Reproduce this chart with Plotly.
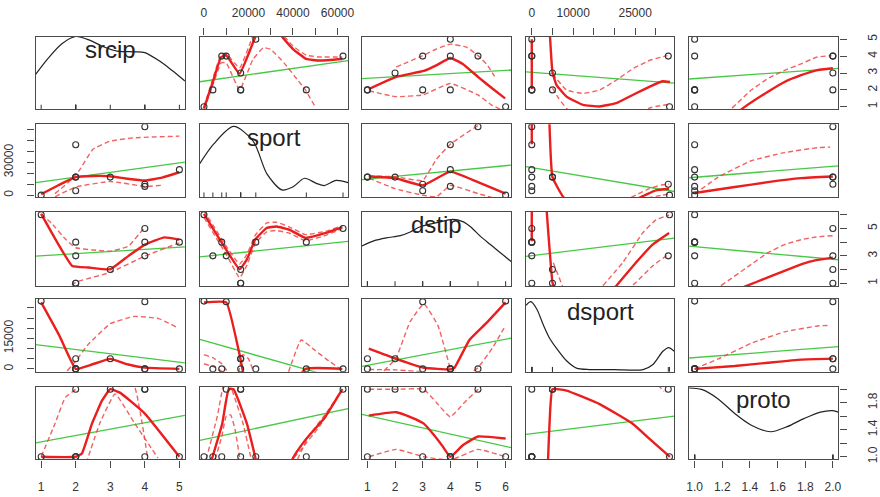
import numpy as np
import plotly.graph_objects as go

W, H = 880, 497

# ---------------- data ----------------
var_names = ["srcip", "sport", "dstip", "dsport", "proto"]
srcip = [1, 2, 2, 3, 2, 4, 4, 2, 5, 4]
sport = [0, 16500, 16500, 16500, 4000, 10000, 8000, 46000, 23300, 62500]
dstip = [6, 1, 1, 2, 3, 3, 4, 4, 4, 5]
dsport = [33300, 0, 5000, 5000, 0, 33000, 0, 0, 0, 0]
proto = [1, 1, 2, 2, 1, 2, 1, 1, 1, 2]

# axis limits (data range + 4%)
lim_srcip = [0.84, 5.16]
lim_sport = [-1900, 64750]
lim_dstip = [0.8, 6.2]
lim_dsport = [-1400, 34450]
lim_proto = [0.96, 2.04]

# tick values / labels
tick_srcip = [1, 2, 3, 4, 5]
lab_srcip_bottom = ["1", "2", "3", "4", "5"]
lab_srcip_right = ["1", "2", "3", "4", "5"]
tick_sport = [0, 10000, 20000, 30000, 40000, 50000, 60000]
lab_sport_top = ["0", "", "20000", "", "40000", "", "60000"]
lab_sport_left = ["0", "", "", "30000", "", "", ""]
tick_dstip = [1, 2, 3, 4, 5, 6]
lab_dstip_bottom = ["1", "2", "3", "4", "5", "6"]
lab_dstip_right = ["1", "", "3", "", "5", ""]
tick_dsport = [0, 5000, 10000, 15000, 20000, 25000, 30000]
lab_dsport_top = ["0", "", "10000", "", "", "25000", ""]
lab_dsport_left = ["0", "", "", "15000", "", "", ""]
tick_proto = [1.0, 1.2, 1.4, 1.6, 1.8, 2.0]
lab_proto_bottom = ["1.0", "1.2", "1.4", "1.6", "1.8", "2.0"]
lab_proto_right = ["1.0", "", "1.4", "", "1.8", ""]

# density curves on the diagonal (x value, relative height 0..1)
dens_srcip_x = [0.84, 1.2, 1.6, 2.0, 2.4, 2.8, 3.2, 3.7, 4.0, 4.47, 4.8, 5.16]
dens_srcip_y = [0.48, 0.7, 0.9, 1.0, 0.95, 0.86, 0.8, 0.79, 0.78, 0.65, 0.53, 0.39]
dens_sport_x = [-1900, 4400, 13300, 22100, 28300, 35000, 39900, 45200, 50500, 54100, 59400, 64750]
dens_sport_y = [0.46, 0.73, 0.97, 0.77, 0.32, 0.1, 0.14, 0.26, 0.19, 0.16, 0.23, 0.2]
dens_dstip_x = [0.8, 1.23, 1.69, 2.19, 2.55, 2.91, 3.55, 4.09, 4.45, 4.73, 5.09, 5.45, 5.81, 6.2]
dens_dstip_y = [0.54, 0.61, 0.65, 0.68, 0.73, 0.8, 0.86, 0.9, 0.87, 0.8, 0.67, 0.56, 0.45, 0.33]
dens_dsport_x = [-1400, -240, 1200, 2800, 4300, 6000, 8400, 10800, 13900, 20000, 26900, 29300, 31700, 33100, 34450]
dens_dsport_y = [0.91, 0.96, 0.86, 0.64, 0.46, 0.32, 0.15, 0.05, 0.03, 0.03, 0.03, 0.1, 0.28, 0.33, 0.28]
dens_proto_x = [0.96, 1.05, 1.17, 1.29, 1.41, 1.55, 1.67, 1.79, 1.91, 2.0, 2.04]
dens_proto_y = [0.98, 0.96, 0.83, 0.63, 0.47, 0.38, 0.45, 0.56, 0.65, 0.67, 0.65]

# smoother (solid) and spread (dashed) curves per panel: [x values, y values]
sm_1_2 = [[0, 3800, 7700, 10000, 16000, 23000, 29000, 34800, 40000, 46000, 52000, 62200],
          [0.9, 2.4, 3.93, 4.05, 2.96, 5.1, 6.5, 5.2, 4.42, 3.83, 3.74, 3.83]]
up_1_2 = [[0, 3800, 7700, 10000, 16000, 22000, 28000, 34000, 40000, 46000, 52000, 62200],
          [1.0, 2.6, 4.1, 4.15, 3.3, 5.2, 7.0, 5.5, 4.6, 4.05, 3.95, 3.95]]
lo_1_2 = [[0, 3800, 7700, 10000, 16000, 22000, 26700, 30000, 36000, 42000, 45600, 50000],
          [0.85, 2.2, 3.6, 3.6, 2.0, 3.8, 4.5, 4.4, 3.6, 2.6, 2.0, 1.0]]
sm_1_3 = [[1.05, 2.04, 3.04, 3.49, 4.0, 4.45, 5.0, 5.52, 5.98],
          [2.05, 2.77, 3.12, 3.45, 3.89, 3.54, 2.77, 2.08, 1.5]]
up_1_3 = [[2.04, 3.0, 3.5, 4.0, 4.6, 5.0, 5.34, 5.6],
          [3.35, 4.03, 4.42, 4.71, 4.52, 4.03, 3.47, 2.8]]
lo_1_3 = [[1.05, 2.0, 3.0, 4.0, 5.0, 5.5, 6.0],
          [1.95, 1.6, 1.7, 2.38, 1.7, 1.1, 0.7]]
sm_1_4 = [[0, 0, None, 4400, 5000, 6000, 8400, 12400, 16400, 20400, 24400, 28400, 31600, 33400],
          [2.05, 5.0, None, 5.2, 3.06, 2.28, 1.6, 1.11, 1.02, 1.21, 1.7, 2.18, 2.51, 2.47]]
up_1_4 = [[5000, 8400, 12400, 16400, 20400, 24400, 28400, 32800],
          [2.96, 1.99, 1.79, 1.99, 2.57, 3.25, 3.74, 4.03]]
lo_1_4 = [[5000, 6500, 8400, 12000, 20000, 26000, 28400, 30800, 33400],
          [2.1, 1.5, 0.9, 0.2, -0.5, 0.3, 0.92, 1.05, 1.15]]
sm_1_5 = [[1.3, 1.35, 1.53, 1.65, 1.77, 1.88, 2.0],
          [0.6, 0.92, 1.89, 2.47, 2.87, 3.16, 3.28]]
up_1_5 = [[1.27, 1.41, 1.53, 1.65, 1.77, 1.88, 1.99],
          [0.92, 1.99, 2.67, 3.16, 3.54, 3.93, 4.03]]
lo_1_5 = [[], []]

sm_2_1 = [[1, 1.5, 2, 2.5, 3, 3.5, 4, 4.5, 5],
          [800, 9000, 16400, 17500, 17300, 15000, 13400, 16000, 20900]]
up_2_1 = [[1.4, 1.8, 2.1, 2.5, 3.0, 3.7, 5.0],
          [1400, 12000, 22400, 42000, 49400, 52400, 53900]]
lo_2_1 = [[1.4, 2.0, 3.0, 4.0, 4.5],
          [-1500, 7400, 12500, 8000, 9000]]
sm_2_3 = [[1.05, 2.0, 3.0, 4.0, 5.0, 6.0],
          [17000, 15500, 8900, 21500, 11900, 1400]]
up_2_3 = [[1.05, 2.0, 3.0, 3.5, 4.0, 4.6, 5.0, 5.3],
          [17500, 16800, 13400, 33000, 46500, 57000, 63600, 70000]]
lo_2_3 = [[1.05, 2.0, 3.0, 3.5, 4.0, 5.0, 5.5],
          [15500, 5900, -100, -1500, 8900, 1400, -2000]]
sm_2_4 = [[0, 0, None, 4250, 5000, 7600, 16000, 26000, 30000, 33200],
          [46500, 67000, None, 67800, 16400, -1600, -30000, -2500, 4400, 5900]]
up_2_4 = [[24000, 28400, 31600, 33200],
          [-2000, 5900, 9500, 10000]]
lo_2_4 = [[28000, 31600, 33200],
          [-2500, 0, 1000]]
sm_2_5 = [[1.0, 1.29, 1.53, 1.77, 2.0],
          [2000, 7400, 11900, 15500, 17000]]
up_2_5 = [[1.0, 1.17, 1.41, 1.65, 1.89, 1.98],
          [1000, 16400, 31400, 38900, 43400, 44000]]
lo_2_5 = [[], []]

sm_3_1 = [[1.0, 1.42, 1.9, 2.37, 3.0, 3.52, 4.0, 4.57, 5.0],
          [6.06, 4.18, 2.26, 2.15, 2.02, 2.98, 3.82, 4.35, 4.18]]
up_3_1 = [[1.0, 1.3, 1.72, 2.0, 3.0, 3.52, 4.0],
          [6.06, 5.38, 4.18, 3.59, 3.34, 3.7, 5.1]]
lo_3_1 = [[1.7, 2.0, 3.0, 4.0, 5.0],
          [0.5, 1.07, 1.79, 2.98, 3.95]]
sm_3_2 = [[0, 4400, 10400, 16000, 19300, 23000, 28200, 32600, 38500, 45600, 54800, 62200],
          [6.06, 4.9, 3.34, 2.02, 2.74, 4.18, 5.03, 5.14, 4.9, 4.31, 4.67, 5.1]]
up_3_2 = [[0, 4400, 10400, 16000, 19300, 23000, 28200, 32600, 38500, 45600, 54800, 62200],
          [6.3, 5.15, 3.6, 2.4, 3.1, 4.5, 5.4, 5.45, 5.1, 4.55, 4.8, 5.2]]
lo_3_2 = [[0, 4400, 10400, 16000, 19300, 23000, 28200, 32600, 38500, 45600, 54800, 62200],
          [5.8, 4.6, 3.0, 1.4, 2.3, 3.9, 4.75, 4.85, 4.65, 4.1, 4.5, 5.0]]
sm_3_4 = [[0, 0, None, 3600, 5000, 5600, 12000, 20400, 25200, 29200, 33200],
          [4.06, 6.3, None, 6.3, 1.07, 0.5, -2, 0.8, 2.51, 3.82, 4.67]]
up_3_4 = [[17200, 22000, 26800, 30000, 33200],
          [0.82, 2.51, 4.67, 5.62, 5.98]]
lo_3_4 = [[5200, 7400, None, 23000, 25200, 29200, 33000],
          [2.5, 0.8, None, 0.5, 1.07, 2.26, 3.1]]
sm_3_5 = [[1.3, 1.38, 1.53, 1.65, 1.77, 1.88, 2.0],
          [0.5, 0.82, 1.43, 1.9, 2.38, 2.69, 2.87]]
up_3_5 = [[1.19, 1.41, 1.53, 1.65, 1.77, 1.88, 2.0],
          [0.82, 2.38, 3.23, 3.82, 4.18, 4.38, 4.47]]
lo_3_5 = [[], []]

sm_4_1 = [[1.0, 1.52, 2.0, 2.47, 3.0, 3.52, 4.0, 5.0],
          [32700, 16600, 0, 2150, 4900, 2150, 600, 0]]
up_4_1 = [[1.75, 2.0, 2.35, 3.0, 3.7, 4.4, 4.9],
          [-1000, 3800, 11800, 22200, 25800, 24700, 20700]]
lo_4_1 = [[], []]
sm_4_2 = [[0, 10000, 16000, 18000, 30000, 45700, 62200],
          [32700, 32700, 7000, -3000, -20000, 0, 0]]
up_4_2 = [[0, 4000, 8000, 11000, None, 15500, 17500, 20000, 22500, None, 38000, 43700, 50000, 56000, 62300],
          [7000, 5500, 2500, -2000, None, -2000, 7000, 5000, -2000, None, -1500, 14200, 9000, 4000, -700]]
lo_4_2 = [[0, 5000, 9000],
          [2500, 800, -2000]]
sm_4_3 = [[1.05, 2.04, 3.04, 4.0, 4.15, 4.69, 5.28, 6.0],
          [9900, 4900, 560, -260, 560, 14200, 22200, 32700]]
up_4_3 = [[1.6, 2.04, 2.54, 3.04, 3.55, 4.0, None, 4.85, 5.0, 5.52, 6.0],
          [-1000, 5400, 23100, 31900, 21400, 0, None, -1000, 560, 10200, 21400]]
lo_4_3 = [[1.05, 2.04, 3.04],
          [-300, -500, -1500]]
sm_4_5 = [[1.0, 1.29, 1.53, 1.77, 2.0],
          [0, 1400, 3000, 4560, 5040]]
up_4_5 = [[1.0, 1.17, 1.41, 1.65, 1.89, 1.98],
          [0, 4900, 12600, 18200, 21100, 21400]]
lo_4_5 = [[], []]

sm_5_1 = [[1.0, 2.0, 2.18, 2.47, 2.76, 3.0, 3.28, 4.0, 5.0],
          [1.0, 1.0, 1.05, 1.49, 1.83, 2.0, 1.95, 1.64, 1.0]]
up_5_1 = [[1.0, 1.4, 1.7, 2.0, 2.4, 3.0, 3.71, 4.09],
          [1.0, 1.49, 1.88, 2.0, 2.3, 2.5, 2.03, 0.96]]
lo_5_1 = [[2.3, 2.7, 3.14, 3.7, 4.38],
          [0.9, 1.5, 1.93, 1.5, 0.98]]
sm_5_2 = [[3500, 8200, 11100, 13300, 19300, 23000, 30000, 40000, 45600, 54500, 62200],
          [0.96, 1.49, 2.0, 2.0, 1.49, 1.0, 0.0, 0.98, 1.25, 1.59, 2.0]]
up_5_2 = [[1000, 6000, 9000, 10500, 12500, 17500, 21000, 24000, None, 38000, 42900, 51900, 62200],
          [0.96, 1.6, 2.1, 2.15, 2.0, 1.5, 1.0, 0.5, None, 0.9, 1.08, 1.45, 2.0]]
lo_5_2 = [[5000, 8000, 10000, 12000, 14000, 16000, 18000, None, 42000, 47000, 55000, 62200],
          [0.96, 1.3, 1.6, 1.62, 1.4, 1.0, 0.6, None, 0.96, 1.3, 1.65, 2.0]]
sm_5_3 = [[1.05, 2.04, 2.6, 3.04, 3.37, 3.73, 4.0, 4.45, 5.0, 6.0],
          [1.61, 1.66, 1.58, 1.49, 1.34, 1.15, 1.0, 1.17, 1.3, 1.27]]
up_5_3 = [[1.05, 2.04, 3.04, 3.5, 4.0, 4.5, 5.0, 5.5],
          [2.0, 2.0, 2.0, 1.8, 1.59, 1.8, 2.0, 2.3]]
lo_5_3 = [[1.05, 2.04, 3.04, 4.0, 5.0, 6.0],
          [1.0, 1.11, 1.0, 0.95, 1.11, 1.0]]
sm_5_4 = [[3900, 4300, 5000, 8400, 16400, 24400, 28400, 33400],
          [0.9, 1.5, 2.0, 1.98, 1.78, 1.49, 1.27, 1.0]]
up_5_4 = [[30500, 32000],
          [2.06, 1.97]]
lo_5_4 = [[], []]

# ---------------- assemble ----------------
columns = {"srcip": srcip, "sport": sport, "dstip": dstip, "dsport": dsport, "proto": proto}
limits = {"srcip": lim_srcip, "sport": lim_sport, "dstip": lim_dstip, "dsport": lim_dsport, "proto": lim_proto}
densities = {"srcip": (dens_srcip_x, dens_srcip_y), "sport": (dens_sport_x, dens_sport_y),
             "dstip": (dens_dstip_x, dens_dstip_y), "dsport": (dens_dsport_x, dens_dsport_y),
             "proto": (dens_proto_x, dens_proto_y)}
g = globals()
smooth = {}
for i in range(5):
    for j in range(5):
        if i != j:
            smooth[(i, j)] = (g[f"sm_{i+1}_{j+1}"], g[f"up_{i+1}_{j+1}"], g[f"lo_{i+1}_{j+1}"])

top_ticks = {1: (tick_sport, lab_sport_top), 3: (tick_dsport, lab_dsport_top)}
bottom_ticks = {0: (tick_srcip, lab_srcip_bottom), 2: (tick_dstip, lab_dstip_bottom), 4: (tick_proto, lab_proto_bottom)}
right_ticks = {0: (tick_srcip, lab_srcip_right), 2: (tick_dstip, lab_dstip_right), 4: (tick_proto, lab_proto_right)}
left_ticks = {1: (tick_sport, lab_sport_left), 3: (tick_dsport, lab_dsport_left)}

col_px = [(33, 184), (199, 349), (363, 514), (529, 679), (694, 845)]
row_px = [(34, 108), (123, 197), (212, 287), (300, 374), (389, 463)]

FONT = "Liberation Sans, Arial, Helvetica, sans-serif"
TXT = "#333333"
FRAME = "#4a4a4a"
GREEN = "rgb(70,200,70)"
RED = "rgb(235,30,30)"
RED_D = "rgba(240,70,70,0.85)"

fig = go.Figure()
layout = dict(width=W, height=H, margin=dict(l=0, r=0, t=0, b=0),
              paper_bgcolor="white", plot_bgcolor="white", showlegend=False,
              font=dict(family=FONT, color=TXT, size=12))
annotations = []

for i in range(5):
    for j in range(5):
        k = i * 5 + j + 1
        sfx = "" if k == 1 else str(k)
        xn, yn = var_names[j], var_names[i]
        x0, x1 = col_px[j]
        y0, y1 = row_px[i]
        xa = dict(domain=[x0 / W, x1 / W], range=limits[xn], anchor="y" + sfx,
                  showline=True, mirror=True, linecolor=FRAME, linewidth=1.3,
                  showgrid=False, zeroline=False, ticks="", showticklabels=False)
        ya = dict(domain=[1 - y1 / H, 1 - y0 / H], range=limits[yn], anchor="x" + sfx,
                  showline=True, mirror=True, linecolor=FRAME, linewidth=1.3,
                  showgrid=False, zeroline=False, ticks="", showticklabels=False)
        tick_common = dict(ticks="outside", ticklen=7, tickwidth=1.2, tickcolor=FRAME,
                           showticklabels=True, tickmode="array",
                           tickfont=dict(family=FONT, size=12, color=TXT))
        if i == 0 and j in top_ticks:
            tv, tt = top_ticks[j]
            xa.update(tick_common, side="top", tickvals=tv, ticktext=tt, ticklabelstandoff=7)
        if i == 4 and j in bottom_ticks:
            tv, tt = bottom_ticks[j]
            xa.update(tick_common, side="bottom", tickvals=tv, ticktext=tt, ticklabelstandoff=9)
        if j == 4 and i in right_ticks:
            tv, tt = right_ticks[i]
            ya.update(tick_common, side="right", tickvals=tv, ticktext=tt, tickangle=-90, ticklabelstandoff=16)
        if j == 0 and i in left_ticks:
            tv, tt = left_ticks[i]
            ya.update(tick_common, side="left", tickvals=tv, ticktext=tt, tickangle=-90, ticklabelstandoff=10)
        layout["xaxis" + sfx] = xa
        layout["yaxis" + sfx] = ya
        xr, yr = "x" + sfx, "y" + sfx

        if i == j:
            lo, hi = limits[yn]
            dx, dy = densities[xn]
            fig.add_trace(go.Scatter(x=dx, y=[lo + v * (hi - lo) for v in dy], mode="lines",
                                     line=dict(color="#222222", width=1.2, shape="spline", smoothing=0.8),
                                     xaxis=xr, yaxis=yr, hoverinfo="skip"))
            rug_y = lo + (2.0 / (y1 - y0)) * (hi - lo)
            fig.add_trace(go.Scatter(x=columns[xn], y=[rug_y] * len(columns[xn]), mode="markers",
                                     marker=dict(symbol="line-ns", size=4, line=dict(color="#333333", width=1)),
                                     xaxis=xr, yaxis=yr, hoverinfo="skip"))
            annotations.append(dict(text=xn, xref=xr + " domain", yref=yr + " domain",
                                    x=0.5, y=1 - 13 / (y1 - y0), xanchor="center", yanchor="middle",
                                    showarrow=False, font=dict(family=FONT, size=24, color="#222222")))
            continue

        xv = np.array(columns[xn], dtype=float)
        yv = np.array(columns[yn], dtype=float)
        b, a = np.polyfit(xv, yv, 1)
        lx = np.array(limits[xn], dtype=float)
        fig.add_trace(go.Scatter(x=lx, y=a + b * lx, mode="lines",
                                 line=dict(color=GREEN, width=1.3), xaxis=xr, yaxis=yr, hoverinfo="skip"))
        sm, up, lw = smooth[(i, j)]
        for cur in (up, lw):
            if cur[0]:
                fig.add_trace(go.Scatter(x=cur[0], y=cur[1], mode="lines", connectgaps=False,
                                         line=dict(color=RED_D, width=1.4, dash="5px,3px",
                                                   shape="spline", smoothing=0.35),
                                         xaxis=xr, yaxis=yr, hoverinfo="skip"))
        fig.add_trace(go.Scatter(x=sm[0], y=sm[1], mode="lines", connectgaps=False,
                                 line=dict(color=RED, width=2.4, shape="spline", smoothing=0.35),
                                 xaxis=xr, yaxis=yr, hoverinfo="skip"))
        fig.add_trace(go.Scatter(x=xv, y=yv, mode="markers",
                                 marker=dict(symbol="circle-open", size=6, color="#333333", line=dict(width=1.1)),
                                 xaxis=xr, yaxis=yr, hoverinfo="skip"))

layout["annotations"] = annotations
fig.update_layout(**layout)
fig.write_html("out.html")
